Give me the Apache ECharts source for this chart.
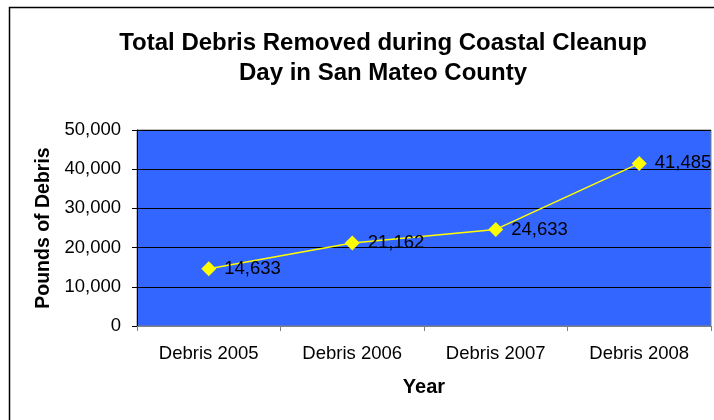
<!DOCTYPE html>
<html><head><meta charset="utf-8">
<script src="https://cdn.jsdelivr.net/npm/echarts@6/dist/echarts.min.js"></script>
<style>html,body{margin:0;padding:0;background:#fff}#c{width:714px;height:420px}</style>
</head><body><div id="c"></div>
<script>
const categories = ['Debris 2005', 'Debris 2006', 'Debris 2007', 'Debris 2008'];
const debrisValues = [14633, 21162, 24633, 41485];
const yTicks = [0, 10000, 20000, 30000, 40000, 50000];

const chart = echarts.init(document.getElementById('c'), null, {renderer: 'canvas'});
const F = 'Arial, "Liberation Sans", sans-serif';
chart.setOption({
  animation: false,
  backgroundColor: '#fff',
  graphic: [{
    type: 'rect', shape: {x: 9.5, y: 7.5, width: 720, height: 430},
    style: {fill: 'none', stroke: '#000', lineWidth: 1.5}, z: -1
  }],
  title: {
    text: 'Total Debris Removed during Coastal Cleanup\nDay in San Mateo County',
    left: 378, top: 23, textAlign: 'center',
    textStyle: {fontFamily: F, fontSize: 24, fontWeight: 'bold', color: '#000', lineHeight: 30}
  },
  grid: {left: 137, top: 130, right: 3, bottom: 94, show: true, backgroundColor: '#3366FF', borderColor: '#808080', borderWidth: 1},
  xAxis: {
    type: 'category', data: categories, boundaryGap: true,
    name: 'Year', nameLocation: 'middle', nameGap: 51,
    nameTextStyle: {fontFamily: F, fontSize: 20, fontWeight: 'bold', color: '#000'},
    axisLine: {lineStyle: {color: '#808080', width: 1}},
    axisTick: {show: true, length: 5, lineStyle: {color: '#808080'}},
    axisLabel: {fontFamily: F, fontSize: 18.5, color: '#000', margin: 18}
  },
  yAxis: {
    type: 'value', min: yTicks[0], max: yTicks[yTicks.length-1], interval: 10000,
    name: 'Pounds of Debris', nameLocation: 'middle', nameGap: 83,
    nameTextStyle: {fontFamily: F, fontSize: 19.5, fontWeight: 'bold', color: '#000'},
    axisLine: {show: true, lineStyle: {color: '#000', width: 1}},
    axisTick: {show: true, length: 5, lineStyle: {color: '#000'}},
    axisLabel: {fontFamily: F, fontSize: 18.5, color: '#000', margin: 16,
      formatter: v => v.toLocaleString('en-US')},
    splitLine: {show: true, lineStyle: {color: '#000', width: 1}}
  },
  series: [{
    type: 'line', data: debrisValues,
    symbol: 'diamond', symbolSize: 15,
    lineStyle: {color: '#FFFF00', width: 1.5},
    itemStyle: {color: '#FFFF00'},
    label: {show: true, position: 'right', distance: 8, fontFamily: F, fontSize: 18.5, color: '#000',
      formatter: p => p.value.toLocaleString('en-US')}
  }]
});
</script></body></html>
